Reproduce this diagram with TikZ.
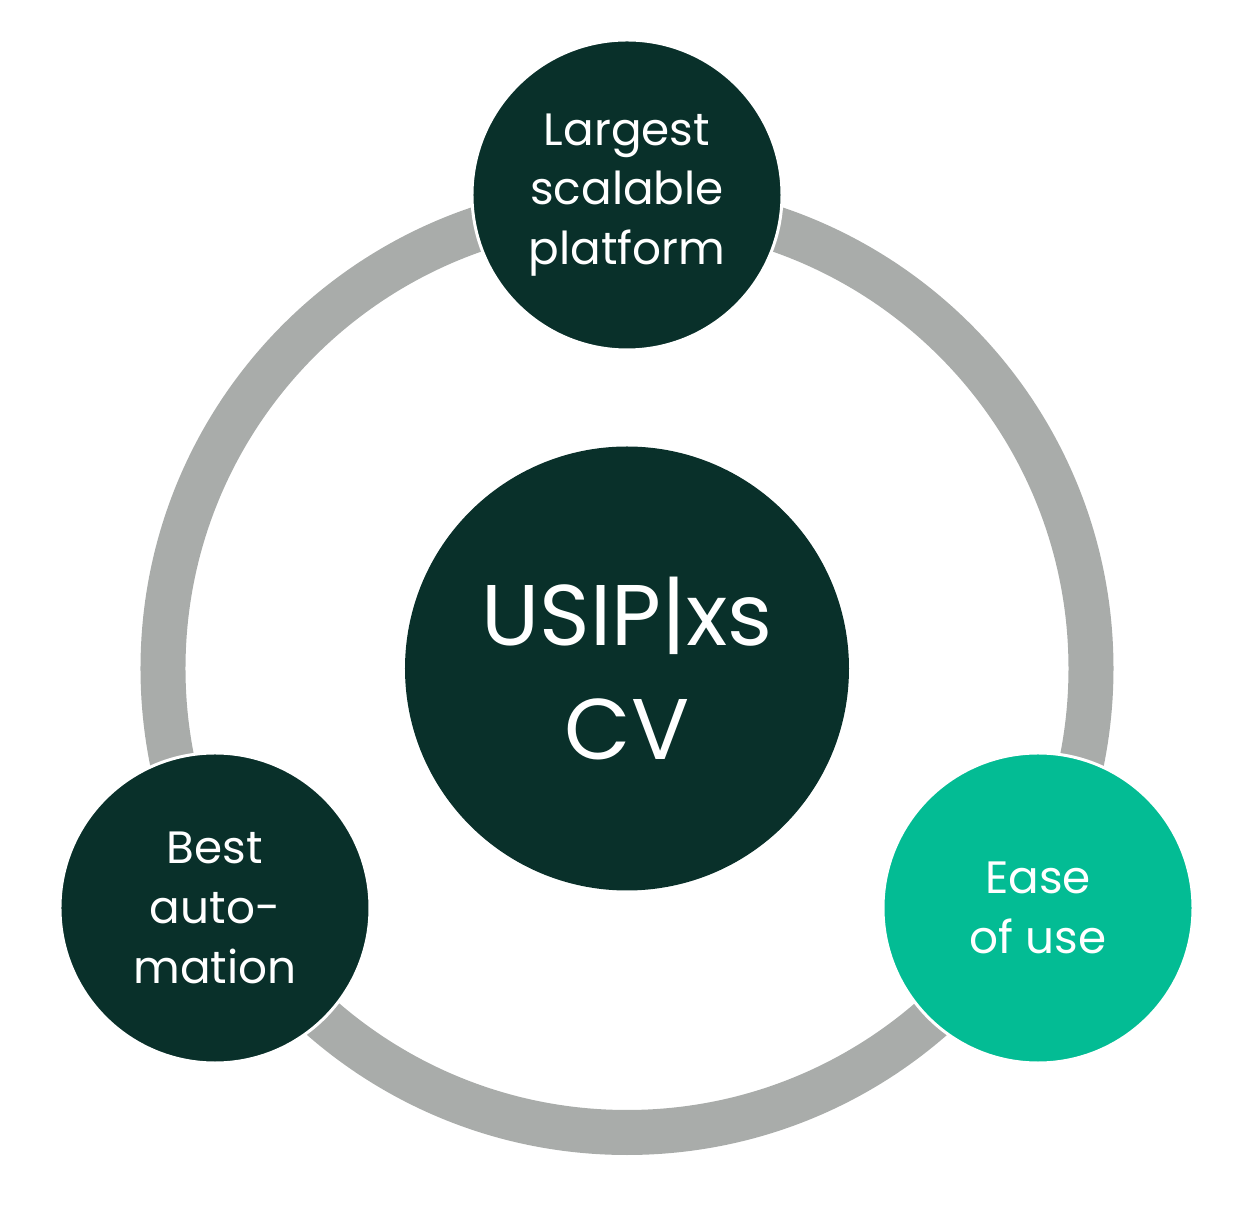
\documentclass[tikz,border=0pt]{standalone}
\usepackage{fontspec}
\setmainfont{Poppins}
\usetikzlibrary{positioning}
\definecolor{darkgreen}{RGB}{9,48,42}
\definecolor{mint}{RGB}{3,188,148}
\definecolor{ringgray}{RGB}{169,172,170}

\tikzset{
  feature/.style={circle, fill=darkgreen, draw=white, line width=1.7pt,
    minimum size=6.2cm, inner sep=0pt, text=white, align=center,
    font=\fontsize{25.8}{34}\selectfont},
  hub/.style={circle, fill=darkgreen, minimum size=8.88cm, inner sep=0pt,
    text=white, align=center, font=\fontsize{49}{65}\selectfont}
}

\begin{document}
\begin{tikzpicture}
  \useasboundingbox (-12.54,-10.83) rectangle (12.46,13.37);
  % ring behind everything
  \draw[ringgray, line width=0.9cm] (0,0) circle (9.28);
  \node[hub] (usip) at (0,0) {USIP|xs\\CV};
  % three pillars
  \node[feature] (platform) at (0,9.47) {Largest\\scalable\\platform};
  \node[feature] (automation) at (-8.24,-4.79) {Best\\auto-\\mation};
  \node[feature, fill=mint] (ease) at (8.22,-4.79) {Ease\\of use};
\end{tikzpicture}
\end{document}
